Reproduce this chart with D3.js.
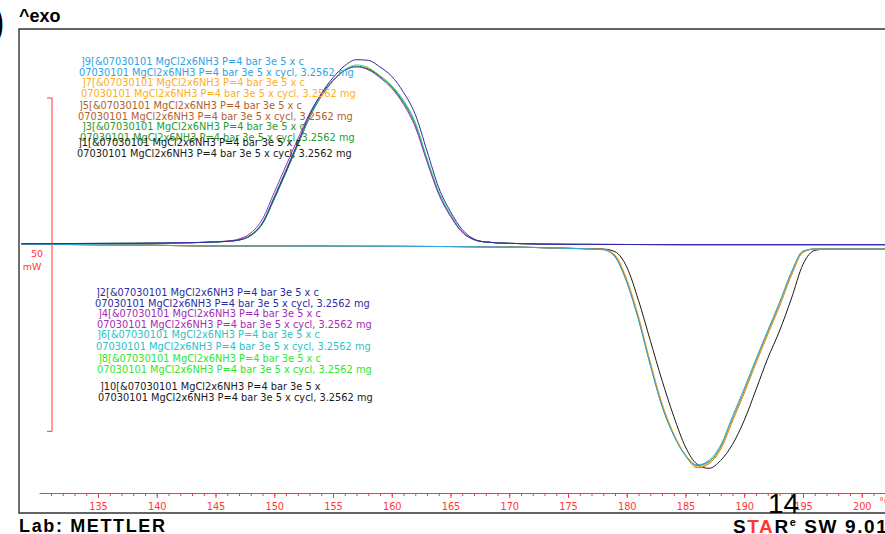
<!DOCTYPE html>
<html>
<head>
<meta charset="utf-8">
<script src="https://cdnjs.cloudflare.com/ajax/libs/d3/7.8.5/d3.min.js"></script>
<style>
body { margin: 0; background: #fff; }
svg { display: block; }
</style>
</head>
<body>
<svg id="chart" width="885" height="534"></svg>
<script>
// temperature grids, °C
var tempExo = [128.5, 138, 143, 145, 146, 147, 148, 149, 150, 151, 152, 153, 154, 155, 156, 157, 158, 159, 160, 161, 162, 163, 164, 165, 166, 167, 168, 170, 175, 185, 202];
var tempEndo = [128.5, 138, 145, 160, 170, 175, 177, 178, 179, 180, 181, 182, 183, 184, 185, 186, 187, 188, 189, 190, 191, 192, 193, 194, 195, 196, 197, 199, 202];

// heat flow, mW (exo peak group: runs 2,4,6,8,10)
var run2 = [-0.1, -0.05, 0.05, 0.15, 0.25, 0.45, 1.2, 3.0, 6.8, 10.8, 15.0, 19.2, 22.4, 24.8, 26.6, 27.5, 27.4, 26.4, 25.0, 22.6, 19.3, 13.8, 8.3, 4.7, 2.0, 0.6, 0.15, -0.05, -0.2, -0.25, -0.25];
var run4 = [-0.1, -0.05, 0.05, 0.2, 0.3, 0.6, 1.5, 3.6, 7.6, 11.6, 15.6, 19.4, 22.3, 24.4, 25.9, 26.4, 26.0, 24.8, 23.2, 20.8, 17.4, 12.2, 7.3, 4.0, 1.6, 0.5, 0.15, -0.05, -0.2, -0.25, -0.25];
var run6 = [-0.1, -0.05, 0.05, 0.15, 0.25, 0.45, 1.2, 3.1, 7.0, 11.0, 15.0, 19.0, 22.1, 24.3, 25.9, 26.5, 26.0, 24.9, 23.5, 21.2, 17.9, 12.5, 7.6, 4.2, 1.7, 0.5, 0.15, -0.05, -0.2, -0.25, -0.25];
var run8 = [-0.1, -0.05, 0.05, 0.15, 0.25, 0.45, 1.1, 2.9, 6.7, 10.8, 14.8, 18.9, 22.1, 24.4, 26.0, 26.7, 26.3, 25.1, 23.6, 21.4, 18.1, 12.7, 7.7, 4.3, 1.7, 0.5, 0.15, -0.05, -0.2, -0.25, -0.25];
var run10 = [-0.1, -0.05, 0.05, 0.15, 0.25, 0.45, 1.1, 2.9, 6.6, 10.6, 14.7, 18.8, 22.0, 24.3, 25.9, 26.5, 26.1, 25.0, 23.4, 21.1, 17.8, 12.4, 7.5, 4.1, 1.6, 0.5, 0.15, -0.05, -0.2, -0.25, -0.25];

// heat flow, mW (endo peak group: runs 1,3,5,7,9)
var run1 = [-0.2, -0.3, -0.45, -0.5, -0.6, -0.8, -0.85, -0.9, -1.3, -3.6, -8.6, -14.6, -20.6, -26.0, -30.6, -33.2, -33.8, -32.6, -30.2, -26.6, -22.0, -17.3, -13.2, -8.4, -3.2, -1.1, -0.9, -0.9, -0.9];
var run3 = [-0.2, -0.3, -0.45, -0.5, -0.6, -0.8, -0.9, -1.0, -2.0, -5.8, -11.4, -18.2, -24.4, -28.8, -31.8, -33.4, -32.8, -30.6, -26.4, -22.2, -17.7, -13.4, -9.2, -4.6, -1.3, -0.9, -0.9, -0.9, -0.9];
var run5 = [-0.2, -0.3, -0.45, -0.5, -0.6, -0.8, -0.9, -0.95, -1.9, -5.6, -11.2, -18.0, -24.2, -28.7, -31.9, -33.7, -33.1, -30.9, -26.7, -22.5, -18.0, -13.7, -9.5, -4.9, -1.4, -0.9, -0.9, -0.9, -0.9];
var run7 = [-0.2, -0.3, -0.45, -0.5, -0.6, -0.8, -0.9, -0.95, -1.8, -5.4, -11.0, -17.8, -24.0, -28.6, -31.8, -33.6, -33.0, -30.8, -26.6, -22.4, -17.9, -13.6, -9.4, -4.8, -1.4, -0.9, -0.9, -0.9, -0.9];
var run9 = [-0.2, -0.3, -0.45, -0.5, -0.6, -0.8, -0.9, -1.0, -2.1, -5.9, -11.5, -18.3, -24.5, -28.9, -31.9, -33.3, -32.6, -30.3, -26.0, -21.8, -17.4, -13.1, -8.9, -4.4, -1.2, -0.9, -0.9, -0.9, -0.9];

// x axis ticks, °C
var majorTicks = [135, 140, 145, 150, 155, 160, 165, 170, 175, 180, 185, 190, 195, 200];
var minorTicks = d3.range(131, 203);

var sampleName = "07030101 MgCl2x6NH3 P=4 bar 3e 5 x";
var sampleMass = "3.2562 mg";

var colors = {
    1: "#1a1a1a", 3: "#2a9a2a", 5: "#b25e2c", 7: "#ffae22", 9: "#2ea2e4",
    2: "#2c2ca6", 4: "#a52cb4", 6: "#2cc2c6", 8: "#2ce82c", 10: "#1a1a1a"
};

var series = [
    { id: 1, temps: tempEndo, values: run1 },
    { id: 3, temps: tempEndo, values: run3 },
    { id: 5, temps: tempEndo, values: run5 },
    { id: 7, temps: tempEndo, values: run7 },
    { id: 9, temps: tempEndo, values: run9 },
    { id: 10, temps: tempExo, values: run10 },
    { id: 8, temps: tempExo, values: run8 },
    { id: 6, temps: tempExo, values: run6 },
    { id: 4, temps: tempExo, values: run4 },
    { id: 2, temps: tempExo, values: run2 }
];

var svg = d3.select("#chart");
var frame = { left: 19, top: 29, right: 885, bottom: 513 };
var red = "#ff3636";
var font = "'DejaVu Sans', Verdana, sans-serif";
var sans = "'Liberation Sans', Arial, sans-serif";

var x = d3.scaleLinear().domain([130, 202]).range([39.25, 885.25]);
var y = d3.scaleLinear().domain([-40.5, 32.1]).range([frame.bottom, frame.top]);

svg.append("defs").append("clipPath").attr("id", "plot-clip")
    .append("rect")
    .attr("x", frame.left).attr("y", frame.top)
    .attr("width", frame.right - frame.left).attr("height", frame.bottom - frame.top);

// frame
svg.append("path")
    .attr("d", "M" + frame.right + "," + frame.top + "H" + frame.left + "V" + frame.bottom + "H" + frame.right)
    .attr("fill", "none")
    .attr("stroke", "#333")
    .attr("stroke-width", 1.4);

// curves
var line = d3.line()
    .curve(d3.curveMonotoneX)
    .x(function (d) { return x(d[0]); })
    .y(function (d) { return y(d[1]); });

svg.append("g")
    .attr("clip-path", "url(#plot-clip)")
    .selectAll("path")
    .data(series)
    .enter()
    .append("path")
    .attr("fill", "none")
    .attr("stroke", function (d) { return colors[d.id]; })
    .attr("stroke-width", 1)
    .attr("d", function (d) {
        return line(d.temps.map(function (t, i) { return [t, d.values[i]]; }));
    });

// 50 mW scale bar
var barTop = y(21.75), barBottom = y(21.75 - 50);
svg.append("path")
    .attr("d", "M47," + barTop + "H52V" + barBottom + "H47")
    .attr("fill", "none")
    .attr("stroke", red)
    .attr("stroke-width", 1);
svg.append("text").attr("x", 37).attr("y", 257).attr("text-anchor", "middle")
    .attr("font-family", font).attr("font-size", 9.5).attr("fill", red).text("50");
svg.append("text").attr("x", 32).attr("y", 270).attr("text-anchor", "middle")
    .attr("font-family", font).attr("font-size", 9.5).attr("fill", red).text("mW");

// x axis
var axisY = 493;
var minorAxis = svg.append("g")
    .attr("transform", "translate(0," + axisY + ")")
    .call(d3.axisBottom(x).tickValues(minorTicks).tickSize(3).tickSizeOuter(0).tickFormat(""));
var majorAxis = svg.append("g")
    .attr("transform", "translate(0," + axisY + ")")
    .call(d3.axisBottom(x).tickValues(majorTicks).tickSize(5).tickSizeOuter(0).tickPadding(5));
majorAxis.append("text")
    .attr("x", 879).attr("y", 5).attr("dy", "0.71em")
    .attr("text-anchor", "start")
    .text("°C");
[minorAxis, majorAxis].forEach(function (g) {
    g.selectAll(".domain, line").attr("stroke", red).attr("stroke-width", 1);
    g.selectAll("text").attr("fill", red).attr("font-family", font).attr("font-size", 9.8);
});

// legends
var legendUpper = [
    { id: 9, x1: 81, y1: 65, x2: 79, y2: 76 },
    { id: 7, x1: 82, y1: 86, x2: 81, y2: 97 },
    { id: 5, x1: 79, y1: 109, x2: 78, y2: 120 },
    { id: 3, x1: 82, y1: 130, x2: 80, y2: 141 },
    { id: 1, x1: 78, y1: 146, x2: 77, y2: 157 }
];
var legendLower = [
    { id: 2, x1: 96, y1: 296, x2: 95, y2: 307 },
    { id: 4, x1: 98, y1: 317, x2: 97, y2: 328 },
    { id: 6, x1: 97, y1: 338, x2: 96, y2: 350 },
    { id: 8, x1: 98, y1: 362, x2: 97, y2: 373 },
    { id: 10, x1: 100, y1: 390, x2: 98, y2: 401 }
];
var legend = svg.append("g")
    .attr("font-family", font)
    .attr("font-size", 9.8);
legend.selectAll("g")
    .data(legendUpper.concat(legendLower))
    .enter()
    .append("g")
    .attr("fill", function (d) { return colors[d.id]; })
    .each(function (d) {
        var g = d3.select(this);
        g.append("text").attr("x", d.x1).attr("y", d.y1)
            .text("]" + d.id + "[&" + sampleName + (d.id === 10 ? "" : " c"));
        g.append("text").attr("x", d.x2).attr("y", d.y2)
            .text(sampleName + " cycl, " + sampleMass);
    });

// header / footer texts
svg.append("text").attr("x", -9).attr("y", 36)
    .attr("font-family", sans)
    .attr("font-size", 40).attr("font-weight", "bold").text(")");
svg.append("text").attr("x", 19).attr("y", 22)
    .attr("font-family", sans)
    .attr("font-size", 18).attr("font-weight", "bold").text("^exo");
svg.append("text").attr("x", 19).attr("y", 532)
    .attr("font-family", sans)
    .attr("font-size", 18).attr("font-weight", "bold")
    .attr("textLength", 146).attr("lengthAdjust", "spacing")
    .text("Lab: METTLER");
var star = svg.append("text").attr("x", 733).attr("y", 533)
    .attr("font-family", sans)
    .attr("font-size", 19).attr("font-weight", "bold")
    .attr("letter-spacing", 1.6);
star.append("tspan").text("S");
star.append("tspan").attr("fill", red).text("TA");
star.append("tspan").text("R");
star.append("tspan").attr("font-size", 11).attr("dy", -7).text("e");
star.append("tspan").attr("dy", 7).text(" SW 9.01");
svg.append("text").attr("x", 768).attr("y", 513)
    .attr("font-family", sans)
    .attr("font-size", 28).text("14");
</script>
</body>
</html>
